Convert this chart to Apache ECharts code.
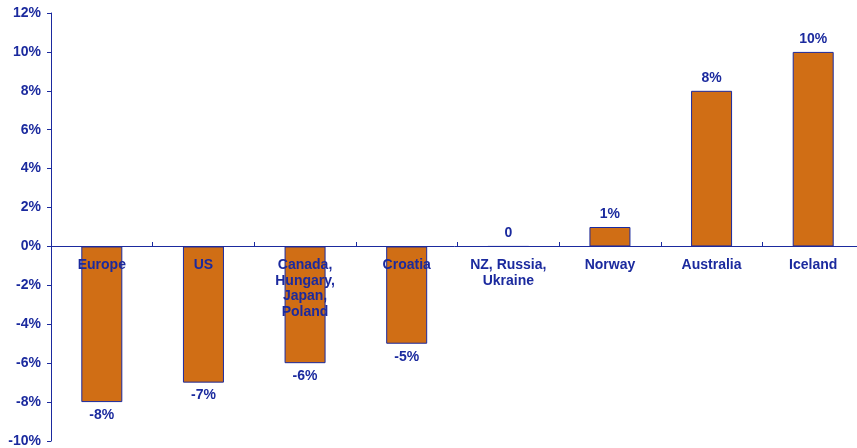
<!DOCTYPE html>
<html><head><meta charset="utf-8">
<script src="https://cdn.jsdelivr.net/npm/echarts@6/dist/echarts.min.js"></script>
<style>html,body{margin:0;padding:0;background:#fff}#c{width:857px;height:448px}</style>
</head><body><div id="c"></div>
<script>
const categories = ['Europe', 'US', 'Canada,\nHungary,\nJapan,\nPoland', 'Croatia', 'NZ, Russia,\nUkraine', 'Norway', 'Australia', 'Iceland'];
const values = [-8, -7, -6, -5, 0, 1, 8, 10];
const yTicks = [-10, -8, -6, -4, -2, 0, 2, 4, 6, 8, 10, 12];

const navy = '#1B2A9E';
const font = 'Liberation Sans, Arial, sans-serif';
const chart = echarts.init(document.getElementById('c'));
chart.setOption({
  animation: false,
  grid: { left: 51, right: -7, top: 13, bottom: 7, containLabel: false, outerBoundsMode: 'none' },
  xAxis: {
    type: 'category',
    data: categories,
    position: 'bottom',
    offset: -195,
    axisLine: { onZero: false, lineStyle: { color: navy, width: 1 } },
    axisTick: { show: true, inside: true, length: 4, lineStyle: { color: navy } },
    axisLabel: {
      interval: 0, margin: 11, color: navy, fontFamily: font,
      fontWeight: 'bold', fontSize: 14, lineHeight: 15.8, hideOverlap: false
    },
    z: 10
  },
  yAxis: {
    type: 'value',
    min: yTicks[0], max: yTicks[yTicks.length - 1], interval: 2,
    splitLine: { show: false },
    axisLine: { show: true, lineStyle: { color: navy, width: 1 } },
    axisTick: { show: true, length: 4, lineStyle: { color: navy } },
    axisLabel: {
      margin: 10, color: navy, fontFamily: font,
      fontWeight: 'bold', fontSize: 14, formatter: v => v + '%'
    }
  },
  series: [{
    type: 'bar',
    data: values.map(v => v === 0 ? { value: v, label: { position: 'top' } } : v),
    barWidth: 41,
    itemStyle: { color: '#D06E15', borderColor: navy, borderWidth: 1 },
    label: {
      show: true, position: 'outside', distance: 6, color: navy,
      fontFamily: font, fontWeight: 'bold', fontSize: 14,
      formatter: p => p.value === 0 ? '0' : p.value + '%'
    }
  }]
});
</script></body></html>
